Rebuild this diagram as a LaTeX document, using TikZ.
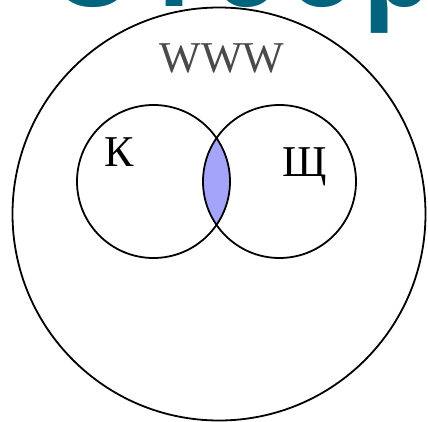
\documentclass[tikz,border=0pt]{standalone}
\usepackage{fontspec}
\setmainfont{Liberation Serif}
\newfontfamily\titlefont[LetterSpace=5.5]{Open Sans}
\definecolor{titleteal}{HTML}{00647F}
\definecolor{lensfill}{HTML}{A4A4FA}
\definecolor{wwwgray}{HTML}{4A4A4A}
\tikzset{
  setline/.style={draw=black, line width=1.8pt},
  setlabel/.style={inner sep=0pt, anchor=base, font=\fontsize{44}{44}\selectfont},
}
\begin{document}
\begin{tikzpicture}[x=1pt, y=-1pt]
  \useasboundingbox (0,0) rectangle (428,422);
  \begin{scope}
    \clip (0,0) rectangle (428,422);
    \node[anchor=base west, inner sep=0pt, text=titleteal,
          font=\titlefont\bfseries\fontsize{112}{112}\selectfont] (title) at (48,7) {Отбор};
  \end{scope}
  \coordinate (oc) at (219,214);
  \coordinate (kc) at (153.5,181.5);
  \coordinate (sc) at (279.5,181.5);
  \begin{scope}
    \clip (kc) circle [radius=76.5];
    \fill[lensfill] (sc) circle [radius=76.5];
  \end{scope}
  \draw[setline] (oc) circle [radius=206.5];
  \draw[setline] (kc) circle [radius=76.5];
  \draw[setline] (sc) circle [radius=76.5];
  \node[setlabel, text=wwwgray] (www) at (222,73) {WWW};
  \node[setlabel] (k) at (119,167) {К};
  \node[setlabel] (sh) at (305,177) {Щ};
\end{tikzpicture}
\end{document}
